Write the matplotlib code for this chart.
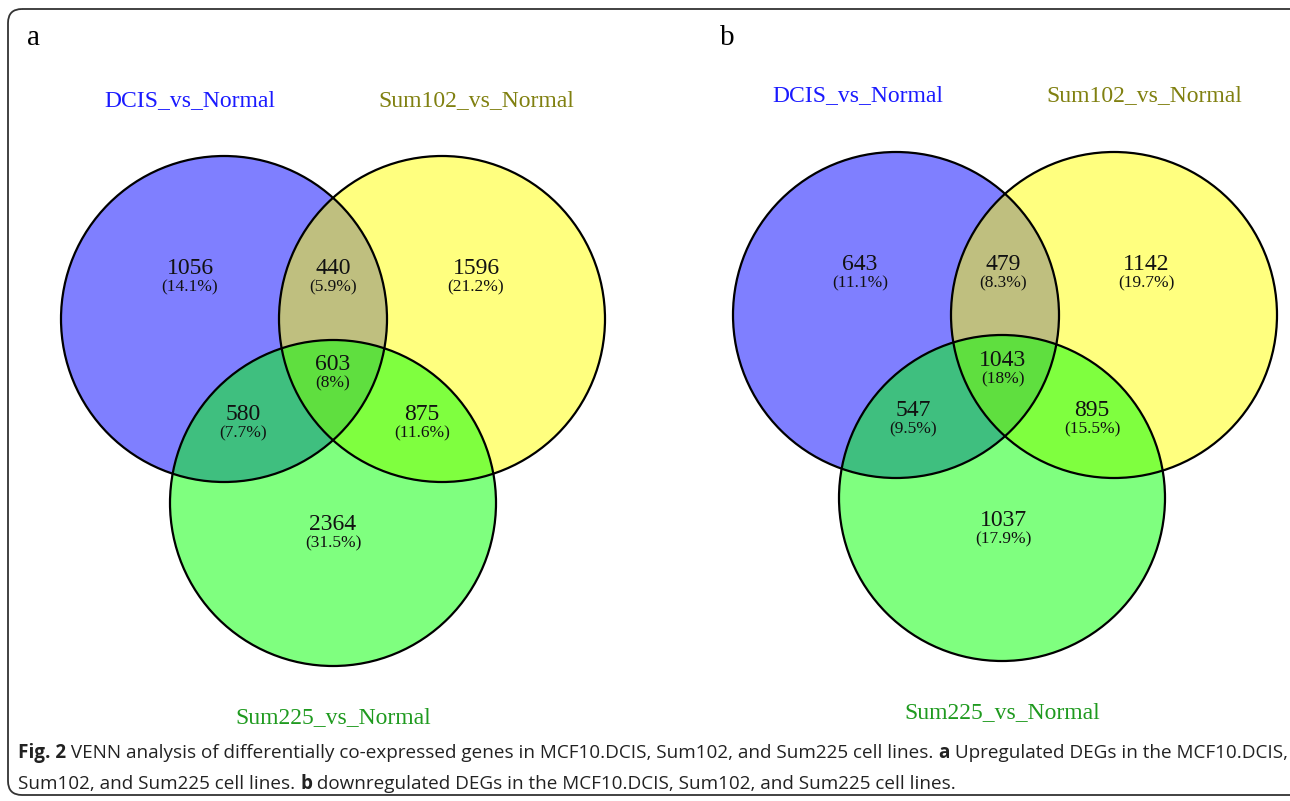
import matplotlib
matplotlib.use('Agg')
import matplotlib.pyplot as plt
from matplotlib.patches import Circle, FancyBboxPatch
from matplotlib import font_manager as fm

# datos de los dos diagramas de Venn
set_names = ['DCIS_vs_Normal', 'Sum102_vs_Normal', 'Sum225_vs_Normal']
# orden de regiones: A, B, C, AB, AC, BC, ABC
up_counts = [1056, 1596, 2364, 440, 580, 875, 603]
up_pcts = ['14.1%', '21.2%', '31.5%', '5.9%', '7.7%', '11.6%', '8%']
down_counts = [643, 1142, 1037, 479, 547, 895, 1043]
down_pcts = ['11.1%', '19.7%', '17.9%', '8.3%', '9.5%', '15.5%', '18%']
panel_letters = ['a', 'b']

fill_cols = ['#0000ff', '#ffff00', '#00ff00']
name_cols = ['#1a1aff', '#808010', '#1f9a1f']
serif = 'Liberation Serif'

names = {f.name for f in fm.fontManager.ttflist}
cap_font = 'Liberation Sans Narrow' if 'Liberation Sans Narrow' in names else 'Open Sans'

fig = plt.figure(figsize=(12.9, 8.01), dpi=100)
ax = fig.add_axes([0, 0, 1, 1])
ax.set_xlim(0, 1290)
ax.set_ylim(801, 0)
ax.axis('off')

# marco redondeado
ax.add_patch(FancyBboxPatch((8, 9), 1300, 786, boxstyle='round,pad=0,rounding_size=14',
                            fill=False, ec='#333333', lw=1.3))

# posicion de cada panel (centros de circulos en pixeles)
panels = [
    dict(circ=[(224, 319), (442, 319), (333, 503)], ref=(333, 320),
         names=[(190, 101), (476, 101), (333, 718)], letter=(27, 38)),
    dict(circ=[(896, 315), (1114, 315), (1002, 498)], ref=(1003, 316),
         names=[(858, 96), (1144, 96), (1002, 713)], letter=(720, 38)),
]
offs = [(-143, -48), (143, -48), (0, 208), (0, -48), (-90, 98), (89, 98), (0, 48)]
radius = 163

for p, counts, pcts, let in zip(panels, [up_counts, down_counts], [up_pcts, down_pcts], panel_letters):
    for (cx, cy), c in zip(p['circ'], fill_cols):
        ax.add_patch(Circle((cx, cy), radius, fc=c, alpha=0.5, ec='none'))
    for (cx, cy) in p['circ']:
        ax.add_patch(Circle((cx, cy), radius, fill=False, ec='black', lw=1.6))
    rx, ry = p['ref']
    for (dx, dy), n, pc in zip(offs, counts, pcts):
        ax.text(rx + dx, ry + dy - 4, str(n), ha='center', va='center', fontsize=17,
                family=serif, color='#111111')
        ax.text(rx + dx, ry + dy + 15, '(' + pc + ')', ha='center', va='center', fontsize=12.5,
                family=serif, color='#111111')
    for (x, y), nm, col in zip(p['names'], set_names, name_cols):
        ax.text(x, y, nm, ha='center', va='center', fontsize=17, family=serif, color=col)
    ax.text(p['letter'][0], p['letter'][1], let, ha='left', va='center', fontsize=21,
            family=serif, color='black')

# pie de figura, con partes en negrita
r = fig.canvas.get_renderer()

def seg_width(s, weight, size):
    t = ax.text(0, 0, '|' + s + '|', fontsize=size, weight=weight, family=cap_font)
    w1 = t.get_window_extent(r).width
    t.set_text('||')
    w2 = t.get_window_extent(r).width
    t.remove()
    return w1 - w2

line1 = [('Fig. 2', 'bold'),
         (' VENN analysis of differentially co-expressed genes in MCF10.DCIS, Sum102, and Sum225 cell lines. ', 'normal'),
         ('a', 'bold'),
         (' Upregulated DEGs in the MCF10.DCIS,', 'normal')]
line2 = [('Sum102, and Sum225 cell lines. ', 'normal'),
         ('b', 'bold'),
         (' downregulated DEGs in the MCF10.DCIS, Sum102, and Sum225 cell lines.', 'normal')]

w10 = sum(seg_width(s, w, 10) for s, w in line1)
cap_size = 10 * 1265 / w10

for parts, y in [(line1, 753), (line2, 784)]:
    x = 18
    for s, w in parts:
        ax.text(x, y, s, ha='left', va='center', fontsize=cap_size, weight=w,
                family=cap_font, color='#222222')
        x += seg_width(s, w, cap_size)

fig.savefig('out.png', dpi=100)
